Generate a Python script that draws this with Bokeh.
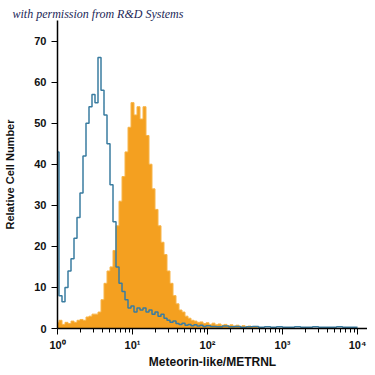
from bokeh.plotting import figure
from bokeh.models import Range1d, FixedTicker
from bokeh.embed import file_html
from bokeh.resources import INLINE

# ---- data (bin centres in decades of fluorescence) ----
control_decades = [0.00, 0.04, 0.08, 0.12, 0.16, 0.20, 0.24, 0.28, 0.32, 0.36,
                   0.40, 0.44, 0.48, 0.52, 0.56, 0.60, 0.64, 0.68, 0.72, 0.76,
                   0.80, 0.84, 0.88, 0.92, 0.96, 1.00, 1.04, 1.08, 1.12, 1.16,
                   1.20, 1.24, 1.28, 1.32, 1.36, 1.40, 1.44, 1.48, 1.52, 1.56,
                   1.60, 1.64, 1.68, 1.72, 1.76, 1.80, 1.84, 1.88, 1.92, 1.96,
                   2.00, 2.08, 2.16, 2.24, 2.32, 2.40, 2.48, 2.56, 2.64, 2.72,
                   2.80, 2.88, 2.96, 3.04, 3.12, 3.20, 3.28, 3.36, 3.44, 3.52,
                   3.60, 3.68, 3.76, 3.84, 3.92, 4.00]
control_counts = [43, 8, 6.5, 10, 14, 17, 22, 27, 33, 42,
                  50, 54, 57, 55, 66, 58, 52, 45, 35, 26,
                  15, 11, 9, 7, 5, 5.5, 4, 5, 4.5, 5,
                  4, 4.5, 3.5, 4, 3, 3.5, 2.5, 2, 1.5, 1.8,
                  1.2, 1.0, 1.3, 0.8, 1.0, 0.7, 0.9, 0.6, 0.8, 0.5,
                  0.7, 0.5, 0.4, 0.6, 0.4, 0.5, 0.3, 0.4, 0.5, 0.3,
                  0.4, 0.3, 0.4, 0.3, 0.3, 0.4, 0.3, 0.3, 0.4, 0.3,
                  0.3, 0.3, 0.4, 0.3, 0.3, 0.3]

metrnl_decades = [0.00, 0.04, 0.08, 0.12, 0.16, 0.20, 0.24, 0.28, 0.32, 0.36,
                  0.40, 0.44, 0.48, 0.52, 0.56, 0.60, 0.64, 0.68, 0.72, 0.76,
                  0.80, 0.84, 0.88, 0.92, 0.96, 1.00, 1.04, 1.08, 1.12, 1.16,
                  1.20, 1.24, 1.28, 1.32, 1.36, 1.40, 1.44, 1.48, 1.52, 1.56,
                  1.60, 1.64, 1.68, 1.72, 1.76, 1.80, 1.84, 1.88, 1.92, 1.96,
                  2.00, 2.04, 2.08, 2.12, 2.16, 2.20, 2.24, 2.28, 2.32, 2.36,
                  2.40, 2.44, 2.48, 2.52, 2.56, 2.60, 2.64, 2.68, 2.72]
metrnl_counts = [1.5, 2, 1, 1.5, 1.2, 1.8, 1.5, 2, 2.2, 2,
                 2.8, 3, 3.5, 3.5, 4, 7, 11, 14, 15, 19,
                 25, 31, 37, 43, 49, 55, 52, 54, 51, 54,
                 47, 40, 34, 29, 25, 21, 18, 14, 11, 8,
                 6, 4.5, 4, 3, 2.5, 2, 1.8, 1.5, 1.6, 1.2,
                 1.4, 1.0, 1.3, 0.9, 1.1, 0.8, 1.0, 0.7, 0.9, 0.6,
                 0.8, 0.5, 0.7, 0.5, 0.6, 0.4, 0.5, 0.3, 0]

x_ticks = [1, 10, 100, 1000, 10000]
x_tick_labels = ["10\u2070", "10\u00b9", "10\u00b2", "10\u00b3", "10\u2074"]
y_ticks = [0, 10, 20, 30, 40, 50, 60, 70]

control_x = [10 ** d for d in control_decades]
metrnl_x = [10 ** d for d in metrnl_decades]

SANS = "Liberation Sans"

p = figure(frame_width=310, frame_height=308, x_axis_type="log",
           x_range=Range1d(1, 10 ** 4.133), y_range=Range1d(0, 75),
           output_backend="svg", toolbar_location=None,
           min_border_left=57, min_border_right=0, min_border_top=20,
           min_border_bottom=20,
           title="with permission from R&D Systems")
p.outline_line_color = None
p.grid.visible = False
p.background_fill_color = "white"

p.title.align = "left"
p.title.offset = -45
p.title.standoff = 0
p.title.text_font = "Liberation Serif"
p.title.text_font_style = "italic"
p.title.text_font_size = "12px"
p.title.text_color = "#1C2757"

p.varea_step(x=metrnl_x, y1=0, y2=metrnl_counts, step_mode="center",
             fill_color="#F4A020")
p.step(x=metrnl_x, y=metrnl_counts, mode="center", line_color="#F7B448",
       line_width=1)
p.step(x=control_x, y=control_counts, mode="center", line_color="#3A7CA0",
       line_width=1.5)

# axes
minor = [m * d for d in [1, 10, 100, 1000] for m in range(2, 10)]
p.xaxis.ticker = FixedTicker(ticks=x_ticks, minor_ticks=minor)
p.xaxis.major_label_overrides = {t: l for t, l in zip(x_ticks, x_tick_labels)}
p.yaxis.ticker = FixedTicker(ticks=y_ticks, minor_ticks=[])

for ax in (p.xaxis, p.yaxis):
    ax.axis_line_color = "black"
    ax.axis_line_width = 1.5
    ax.major_tick_line_color = "black"
    ax.major_tick_line_width = 1
    ax.minor_tick_line_color = "black"
    ax.major_tick_in = 0
    ax.major_tick_out = 6
    ax.minor_tick_in = 0
    ax.minor_tick_out = 4
    ax.major_label_text_font = SANS
    ax.major_label_text_font_style = "bold"
    ax.major_label_text_font_size = "11px"
    ax.major_label_text_color = "#111111"
    ax.axis_label_text_font = SANS
    ax.axis_label_text_font_style = "bold"
    ax.axis_label_text_color = "#111111"

p.xaxis.axis_label = "Meteorin-like/METRNL"
p.yaxis.axis_label = "Relative Cell Number"
p.xaxis.axis_label_text_font_size = "12px"
p.yaxis.axis_label_text_font_size = "11px"
p.xaxis.major_label_standoff = 4
p.xaxis.axis_label_standoff = 1
p.yaxis.major_label_standoff = 5
p.yaxis.axis_label_standoff = 15

open("out.html", "w").write(file_html(p, INLINE))
